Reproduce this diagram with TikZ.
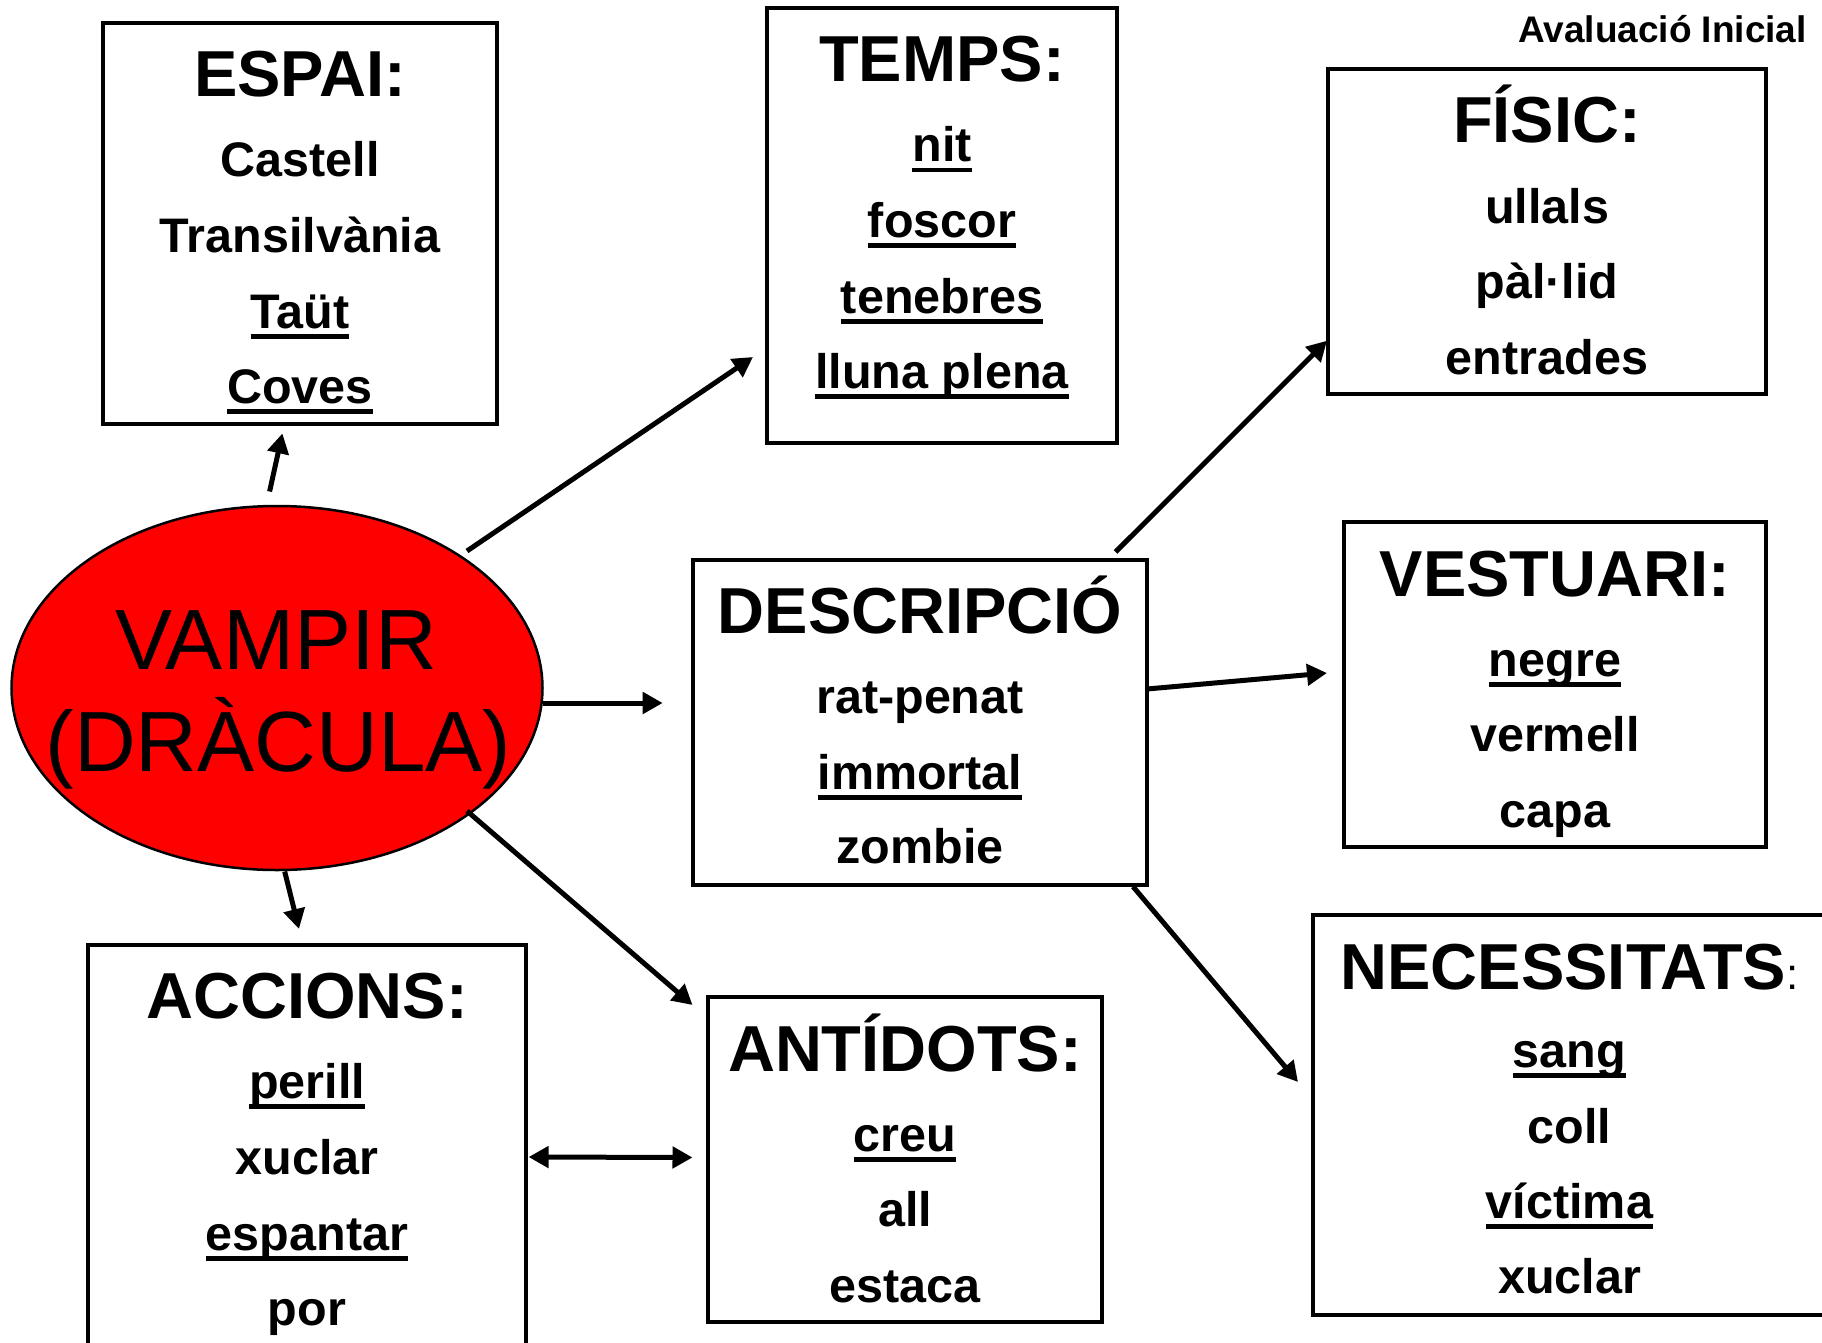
\documentclass[tikz,border=0pt]{standalone}
\usepackage{fontspec}
\setmainfont{Liberation Sans}
\usetikzlibrary{arrows.meta,calc,shapes.geometric}
\newcommand{\ulx}[1]{\setbox0=\hbox{#1}\rlap{\rule[-10.5pt]{\wd0}{4.8pt}}\box0}
\begin{document}
\begin{tikzpicture}[x=1pt,y=-1pt,
  box/.style={draw,line width=3.8pt,rectangle,inner sep=0pt,outer sep=0pt},
  ttl/.style={anchor=base,font=\fontsize{65}{65}\selectfont\bfseries,inner sep=0pt},
  itm/.style={anchor=base,font=\fontsize{48.5}{48.5}\selectfont\bfseries,inner sep=0pt},
  big/.style={anchor=base,font=\fontsize{85.5}{85.5}\selectfont,inner sep=0pt},
  arr/.style={line width=5pt,-{Triangle[length=20pt,width=21pt]}},
  darr/.style={line width=5pt,{Triangle[length=20pt,width=21pt]}-{Triangle[length=20pt,width=21pt]}}]
\fill[white] (0,0) rectangle (1822,1343);
\useasboundingbox (0,0) rectangle (1822,1343);

% header
\node[anchor=base east,font=\fontsize{37}{37}\selectfont\bfseries,inner sep=0pt] (aval) at (1807,43) {Avaluació Inicial};

% central ellipse
\node[ellipse,draw,fill=red,line width=2.5pt,minimum width=531pt,minimum height=364pt,inner sep=0pt,outer sep=0pt] (vamp) at (277,688) {};
\node[big] (vt1) at (276,669) {VAMPIR};
\node[big] (vt2) at (278.5,771) {(DRÀCULA)};

% boxes
\node[box,minimum width=394pt,minimum height=401pt] (espai) at (300,223.5) {};
\node[box,minimum width=350pt,minimum height=435pt] (temps) at (942,225.5) {};
\node[box,minimum width=438pt,minimum height=325pt] (fisic) at (1547,231.5) {};
\node[box,minimum width=422pt,minimum height=325pt] (vest) at (1555,684.5) {};
\node[box,minimum width=454pt,minimum height=325pt] (desc) at (920,722.5) {};
\node[box,minimum width=513pt,minimum height=400pt] (nec) at (1569.5,1115) {};
\node[box,minimum width=394pt,minimum height=325pt] (anti) at (905,1159.5) {};
\node[box,minimum width=438pt,minimum height=401pt] (acc) at (307,1145.5) {};

% ESPAI
\node[ttl] (espai-t) at ($(espai.north)+(0,74)$) {ESPAI:};
\node[itm] (espai-1) at ($(espai.north)+(0,154)$) {Castell};
\node[itm] (espai-2) at ($(espai.north)+(0,229.5)$) {Transilvània};
\node[itm] (espai-3) at ($(espai.north)+(0,305)$) {\ulx{Taüt}};
\node[itm] (espai-4) at ($(espai.north)+(0,380)$) {\ulx{Coves}};

% TEMPS
\node[ttl] (temps-t) at ($(temps.north)+(0,74)$) {TEMPS:};
\node[itm] (temps-1) at ($(temps.north)+(0,154)$) {\ulx{nit}};
\node[itm] (temps-2) at ($(temps.north)+(0,229.5)$) {\ulx{foscor}};
\node[itm] (temps-3) at ($(temps.north)+(0,305)$) {\ulx{tenebres}};
\node[itm] (temps-4) at ($(temps.north)+(0,380)$) {\ulx{lluna plena}};

% FISIC
\node[ttl] (fisic-t) at ($(fisic.north)+(0,74)$) {FÍSIC:};
\node[itm] (fisic-1) at ($(fisic.north)+(0,154)$) {ullals};
\node[itm] (fisic-2) at ($(fisic.north)+(0,229.5)$) {pàl·lid};
\node[itm] (fisic-3) at ($(fisic.north)+(0,305)$) {entrades};

% VESTUARI
\node[ttl] (vest-t) at ($(vest.north)+(0,74)$) {VESTUARI:};
\node[itm] (vest-1) at ($(vest.north)+(0,154)$) {\ulx{negre}};
\node[itm] (vest-2) at ($(vest.north)+(0,229.5)$) {vermell};
\node[itm] (vest-3) at ($(vest.north)+(0,305)$) {capa};

% DESCRIPCIO
\node[ttl] (desc-t) at ($(desc.north)+(0,73)$) {DESCRIPCIÓ};
\node[itm] (desc-1) at ($(desc.north)+(0,153)$) {rat-penat};
\node[itm] (desc-2) at ($(desc.north)+(0,229)$) {\ulx{immortal}};
\node[itm] (desc-3) at ($(desc.north)+(0,303.5)$) {zombie};

% NECESSITATS
\node[ttl] (nec-t) at ($(nec.north)+(0,74)$) {NECESSITATS{\fontsize{44}{44}\selectfont\mdseries:}};
\node[itm] (nec-1) at ($(nec.north)+(0,152)$) {\ulx{sang}};
\node[itm] (nec-2) at ($(nec.north)+(0,228)$) {coll};
\node[itm] (nec-3) at ($(nec.north)+(0,303)$) {\ulx{víctima}};
\node[itm] (nec-4) at ($(nec.north)+(0,378)$) {xuclar};

% ANTIDOTS
\node[ttl] (anti-t) at ($(anti.north)+(0,74)$) {ANTÍDOTS:};
\node[itm] (anti-1) at ($(anti.north)+(0,154)$) {\ulx{creu}};
\node[itm] (anti-2) at ($(anti.north)+(0,229.5)$) {all};
\node[itm] (anti-3) at ($(anti.north)+(0,305)$) {estaca};

% ACCIONS
\node[ttl] (acc-t) at ($(acc.north)+(0,73)$) {ACCIONS:};
\node[itm] (acc-1) at ($(acc.north)+(0,153)$) {\ulx{perill}};
\node[itm] (acc-2) at ($(acc.north)+(0,229)$) {xuclar};
\node[itm] (acc-3) at ($(acc.north)+(0,305)$) {\ulx{espantar}};
\node[itm] (acc-4) at ($(acc.north)+(0,380)$) {por};

% connectors
\draw[arr] ($(vamp.north)+(-7.4,-14.5)$) -- ($(espai.south)+(-17.6,9.4)$);
\draw[arr] ($(vamp.center)+(190,-137)$) -- ($(temps.south west)+(-14,-86)$);
\draw[arr] ($(vamp.east)+(0,15)$) -- ($(desc.west)+(-30.3,-19.5)$);
\draw[arr] ($(vamp.south)+(7.7,1.5)$) -- ($(acc.north)+(-8,-16)$);
\draw[arr] ($(vamp.center)+(190,123)$) -- ($(anti.north west)+(-15.5,8)$);
\draw[darr] ($(acc.east)+(2.6,11.5)$) -- ($(anti.west)+(-15.5,-2)$);
\draw[arr] ($(desc.north east)+(-31.5,-8)$) -- ($(fisic.south west)+(-1,-53.3)$);
\draw[arr] ($(desc.east)+(0,-33.5)$) -- ($(vest.west)+(-17,-11.5)$);
\draw[arr] ($(desc.south east)+(-14,1.6)$) -- ($(nec.west)+(-15,-33)$);
\end{tikzpicture}
\end{document}
